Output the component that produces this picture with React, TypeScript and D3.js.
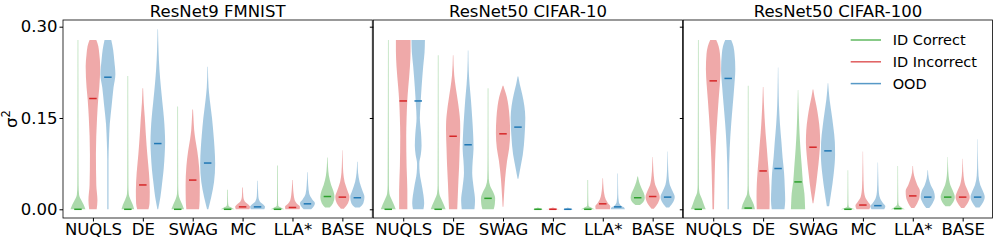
import React, { useEffect, useRef } from 'react';
import * as d3 from 'd3';

type Violin = { med: number; pts: [number, number][] };

const panelTitles = ['ResNet9 FMNIST', 'ResNet50 CIFAR-10', 'ResNet50 CIFAR-100'];
const methods = ['NUQLS', 'DE', 'SWAG', 'MC', 'LLA*', 'BASE'];
const seriesNames = ['ID Correct', 'ID Incorrect', 'OOD'];
const seriesColors = ['#2ca02c', '#d62728', '#1f77b4'];
const yTicks = [0, 0.15, 0.3];

// each violin: median + [sigma^2 value, relative width]
// order per method: ID Correct, ID Incorrect, OOD
const fmnistViolins: Violin[][] = [
  [
    { med: 0, pts: [[0, 1], [0.008, 0.75], [0.016, 0.4], [0.024, 0.15], [0.04, 0.08], [0.1, 0.06], [0.2, 0.05], [0.278, 0.04]] },
    { med: 0.182, pts: [[0, 0.5], [0.015, 0.6], [0.04, 0.45], [0.09, 0.4], [0.15, 0.55], [0.18, 0.7], [0.2, 0.85], [0.235, 0.97], [0.255, 0.85], [0.268, 0.72], [0.278, 0.45]] },
    { med: 0.217, pts: [[0, 0.08], [0.08, 0.08], [0.11, 0.14], [0.14, 0.25], [0.17, 0.5], [0.2, 0.75], [0.222, 1], [0.245, 0.85], [0.262, 0.7], [0.278, 0.45]] },
  ],
  [
    { med: 0, pts: [[0, 0.85], [0.008, 0.65], [0.016, 0.35], [0.025, 0.12], [0.04, 0.07], [0.219, 0.04]] },
    { med: 0.04, pts: [[0, 0.75], [0.01, 0.9], [0.03, 0.93], [0.06, 0.82], [0.09, 0.6], [0.12, 0.42], [0.15, 0.27], [0.175, 0.12], [0.199, 0.04]] },
    { med: 0.108, pts: [[0, 0.05], [0.02, 0.35], [0.04, 0.55], [0.065, 0.78], [0.09, 0.92], [0.11, 0.98], [0.13, 0.93], [0.15, 0.82], [0.175, 0.62], [0.2, 0.42], [0.23, 0.22], [0.26, 0.1], [0.296, 0.03]] },
  ],
  [
    { med: 0, pts: [[0, 0.85], [0.008, 0.6], [0.016, 0.3], [0.025, 0.1], [0.04, 0.06], [0.169, 0.04]] },
    { med: 0.048, pts: [[0, 0.85], [0.015, 0.93], [0.04, 0.95], [0.07, 0.85], [0.095, 0.62], [0.115, 0.35], [0.13, 0.2], [0.15, 0.1], [0.164, 0.04]] },
    { med: 0.076, pts: [[0, 0.08], [0.02, 0.48], [0.045, 0.85], [0.075, 1], [0.1, 0.92], [0.12, 0.8], [0.15, 0.58], [0.18, 0.28], [0.2, 0.12], [0.234, 0.03]] },
  ],
  [
    { med: 0, pts: [[0, 0.95], [0.003, 0.5], [0.006, 0.12], [0.012, 0.06], [0.032, 0.04]] },
    { med: 0.004, pts: [[0, 0.9], [0.004, 1], [0.008, 0.75], [0.013, 0.3], [0.02, 0.1], [0.036, 0.04]] },
    { med: 0.004, pts: [[0, 0.9], [0.004, 1], [0.008, 0.75], [0.013, 0.3], [0.022, 0.1], [0.047, 0.03]] },
  ],
  [
    { med: 0, pts: [[0, 0.95], [0.003, 0.45], [0.006, 0.1], [0.015, 0.06], [0.072, 0.04]] },
    { med: 0.003, pts: [[0, 0.95], [0.004, 1], [0.009, 0.6], [0.015, 0.3], [0.025, 0.15], [0.035, 0.08], [0.048, 0.03]] },
    { med: 0.009, pts: [[0, 0.5], [0.005, 0.85], [0.01, 1], [0.016, 0.65], [0.025, 0.25], [0.04, 0.1], [0.061, 0.03]] },
  ],
  [
    { med: 0.021, pts: [[0.003, 0.3], [0.01, 0.75], [0.02, 0.95], [0.03, 0.8], [0.04, 0.5], [0.055, 0.2], [0.07, 0.08], [0.085, 0.03]] },
    { med: 0.02, pts: [[0.001, 0.2], [0.01, 0.75], [0.02, 0.95], [0.03, 0.7], [0.045, 0.3], [0.06, 0.12], [0.08, 0.05], [0.097, 0.02]] },
    { med: 0.019, pts: [[0.003, 0.3], [0.01, 0.8], [0.02, 0.95], [0.03, 0.7], [0.045, 0.3], [0.06, 0.1], [0.078, 0.03]] },
  ],
];

const cifar10Violins: Violin[][] = [
  [
    { med: 0, pts: [[0, 1], [0.008, 0.75], [0.016, 0.45], [0.026, 0.15], [0.04, 0.08], [0.278, 0.04]] },
    { med: 0.178, pts: [[0, 0.55], [0.03, 0.55], [0.07, 0.45], [0.12, 0.4], [0.15, 0.45], [0.18, 0.55], [0.2, 0.67], [0.235, 0.9], [0.26, 0.98], [0.278, 0.98]] },
    { med: 0.178, pts: [[0, 0.7], [0.01, 0.8], [0.035, 0.55], [0.06, 0.2], [0.075, 0.15], [0.09, 0.35], [0.105, 0.45], [0.125, 0.38], [0.15, 0.22], [0.17, 0.3], [0.2, 0.45], [0.235, 0.67], [0.258, 0.85], [0.278, 0.9]] },
  ],
  [
    { med: 0, pts: [[0, 1], [0.008, 0.75], [0.016, 0.45], [0.026, 0.15], [0.04, 0.07], [0.253, 0.04]] },
    { med: 0.12, pts: [[0, 0.55], [0.02, 0.62], [0.045, 0.7], [0.07, 0.8], [0.1, 0.88], [0.13, 0.95], [0.145, 0.93], [0.16, 0.82], [0.18, 0.6], [0.2, 0.35], [0.22, 0.15], [0.253, 0.03]] },
    { med: 0.106, pts: [[0, 0.85], [0.015, 0.93], [0.035, 0.75], [0.06, 0.55], [0.08, 0.62], [0.1, 0.73], [0.125, 0.67], [0.15, 0.55], [0.18, 0.38], [0.205, 0.2], [0.23, 0.08], [0.261, 0.03]] },
  ],
  [
    { med: 0.018, pts: [[0, 0.75], [0.008, 0.9], [0.018, 0.95], [0.028, 0.7], [0.038, 0.3], [0.05, 0.1], [0.08, 0.06], [0.199, 0.04]] },
    { med: 0.124, pts: [[0.004, 0.05], [0.02, 0.12], [0.05, 0.28], [0.08, 0.55], [0.1, 0.82], [0.125, 0.95], [0.15, 0.88], [0.17, 0.72], [0.185, 0.5], [0.195, 0.25], [0.203, 0.05]] },
    { med: 0.135, pts: [[0.05, 0.05], [0.07, 0.35], [0.09, 0.65], [0.12, 0.88], [0.15, 0.98], [0.17, 0.85], [0.19, 0.55], [0.205, 0.25], [0.218, 0.05]] },
  ],
  [
    { med: 0, pts: [[0, 0.95], [0.0015, 0.3], [0.003, 0.02]] },
    { med: 0, pts: [[0, 0.95], [0.0015, 0.4], [0.003, 0.02]] },
    { med: 0, pts: [[0, 0.95], [0.0015, 0.3], [0.003, 0.02]] },
  ],
  [
    { med: 0, pts: [[0, 0.95], [0.003, 0.45], [0.006, 0.1], [0.015, 0.06], [0.048, 0.04]] },
    { med: 0.009, pts: [[0, 0.95], [0.005, 1], [0.01, 0.7], [0.016, 0.4], [0.025, 0.2], [0.035, 0.1], [0.051, 0.03]] },
    { med: 0.004, pts: [[0, 0.95], [0.003, 0.85], [0.006, 0.45], [0.012, 0.15], [0.025, 0.06], [0.059, 0.03]] },
  ],
  [
    { med: 0.019, pts: [[0.007, 0.3], [0.012, 0.75], [0.019, 0.95], [0.027, 0.8], [0.035, 0.5], [0.045, 0.2], [0.054, 0.04]] },
    { med: 0.021, pts: [[0.001, 0.15], [0.01, 0.7], [0.02, 0.95], [0.03, 0.7], [0.04, 0.35], [0.055, 0.15], [0.07, 0.07], [0.086, 0.02]] },
    { med: 0.02, pts: [[0.003, 0.2], [0.012, 0.75], [0.02, 0.95], [0.03, 0.65], [0.04, 0.3], [0.055, 0.12], [0.075, 0.05], [0.095, 0.02]] },
  ],
];

const cifar100Violins: Violin[][] = [
  [
    { med: 0, pts: [[0, 1], [0.008, 0.75], [0.018, 0.45], [0.028, 0.15], [0.04, 0.08], [0.278, 0.04]] },
    { med: 0.211, pts: [[0, 0.1], [0.03, 0.15], [0.08, 0.25], [0.12, 0.4], [0.15, 0.55], [0.18, 0.72], [0.205, 0.88], [0.23, 0.98], [0.255, 0.9], [0.268, 0.72], [0.278, 0.4]] },
    { med: 0.215, pts: [[0, 0.08], [0.05, 0.1], [0.1, 0.2], [0.14, 0.4], [0.17, 0.6], [0.2, 0.8], [0.23, 0.95], [0.255, 0.85], [0.268, 0.7], [0.278, 0.4]] },
  ],
  [
    { med: 0.002, pts: [[0, 0.9], [0.008, 0.75], [0.016, 0.45], [0.025, 0.15], [0.04, 0.07], [0.203, 0.04]] },
    { med: 0.063, pts: [[0, 0.85], [0.02, 0.88], [0.04, 0.85], [0.06, 0.75], [0.08, 0.62], [0.1, 0.5], [0.125, 0.33], [0.15, 0.2], [0.175, 0.1], [0.201, 0.03]] },
    { med: 0.067, pts: [[0, 0.85], [0.015, 0.95], [0.035, 0.9], [0.06, 0.8], [0.085, 0.6], [0.11, 0.45], [0.14, 0.25], [0.17, 0.12], [0.2, 0.06], [0.233, 0.02]] },
  ],
  [
    { med: 0.045, pts: [[0, 0.95], [0.01, 0.92], [0.026, 0.85], [0.045, 0.65], [0.07, 0.5], [0.1, 0.32], [0.125, 0.2], [0.15, 0.12], [0.175, 0.06], [0.196, 0.02]] },
    { med: 0.102, pts: [[0.01, 0.05], [0.03, 0.3], [0.06, 0.6], [0.09, 0.85], [0.11, 0.95], [0.13, 0.9], [0.15, 0.72], [0.17, 0.45], [0.185, 0.2], [0.197, 0.04]] },
    { med: 0.096, pts: [[0.005, 0.15], [0.025, 0.4], [0.06, 0.78], [0.09, 0.95], [0.11, 0.92], [0.135, 0.72], [0.16, 0.45], [0.18, 0.22], [0.195, 0.1], [0.207, 0.03]] },
  ],
  [
    { med: 0, pts: [[0, 0.95], [0.002, 0.4], [0.005, 0.1], [0.012, 0.06], [0.064, 0.03]] },
    { med: 0.007, pts: [[0, 0.85], [0.006, 1], [0.012, 0.7], [0.02, 0.3], [0.035, 0.12], [0.06, 0.06], [0.095, 0.02]] },
    { med: 0.006, pts: [[0, 0.85], [0.005, 1], [0.01, 0.7], [0.018, 0.3], [0.03, 0.12], [0.05, 0.06], [0.077, 0.02]] },
  ],
  [
    { med: 0.001, pts: [[0, 0.95], [0.003, 0.5], [0.007, 0.12], [0.015, 0.06], [0.071, 0.03]] },
    { med: 0.022, pts: [[0.002, 0.2], [0.01, 0.6], [0.02, 0.9], [0.03, 0.95], [0.04, 0.6], [0.05, 0.3], [0.06, 0.1], [0.071, 0.03]] },
    { med: 0.02, pts: [[0.002, 0.2], [0.01, 0.65], [0.02, 0.95], [0.03, 0.8], [0.04, 0.4], [0.05, 0.15], [0.064, 0.03]] },
  ],
  [
    { med: 0.02, pts: [[0.005, 0.3], [0.012, 0.75], [0.02, 0.95], [0.03, 0.7], [0.04, 0.35], [0.055, 0.12], [0.07, 0.05], [0.086, 0.02]] },
    { med: 0.02, pts: [[0.002, 0.2], [0.012, 0.75], [0.02, 0.95], [0.03, 0.7], [0.04, 0.35], [0.055, 0.12], [0.07, 0.05], [0.083, 0.02]] },
    { med: 0.02, pts: [[0.003, 0.25], [0.012, 0.75], [0.02, 0.95], [0.03, 0.7], [0.04, 0.35], [0.055, 0.12], [0.08, 0.05], [0.115, 0.02]] },
  ],
];

const panelData = [fmnistViolins, cifar10Violins, cifar100Violins];

const W = 997;
const H = 243;
const FONT = '"DejaVu Sans", sans-serif';

export default function App() {
  const svgRef = useRef<SVGSVGElement>(null);

  useEffect(() => {
    if (!svgRef.current) return;
    const svg = d3.select(svgRef.current);
    svg.selectAll('*').remove();

    const top = 20;
    const bottom = 218;
    const panelLefts = [63, 373.3, 683.3];
    const panelW = 309.3;

    const y = d3.scaleLinear().domain([-0.0143, 0.311]).range([bottom, top]);

    panelData.forEach((violins, p) => {
      const left = panelLefts[p];
      const x = d3.scaleLinear().domain([0.4, 6.6]).range([left, left + panelW]);
      const g = svg.append('g');
      const hw = x(0.15) - x(0); // half of the max violin width

      violins.forEach((trio, m) => {
        trio.forEach((v, s) => {
          const pos = m + 1 + (s - 1) * 0.3;
          const cx = x(pos);
          const area = d3.area<[number, number]>()
            .y(d => y(d[0]))
            .x0(d => cx - hw * d[1])
            .x1(d => cx + hw * d[1])
            .curve(d3.curveMonotoneY);
          g.append('path')
            .attr('d', area(v.pts) || '')
            .attr('fill', seriesColors[s])
            .attr('fill-opacity', 0.4);
        });
      });
      violins.forEach((trio, m) => {
        trio.forEach((v, s) => {
          const pos = m + 1 + (s - 1) * 0.3;
          g.append('line')
            .attr('x1', x(pos - 0.075))
            .attr('x2', x(pos + 0.075))
            .attr('y1', y(v.med))
            .attr('y2', y(v.med))
            .attr('stroke', seriesColors[s])
            .attr('stroke-width', 1.5);
        });
      });

      // y axis (labels only on first panel)
      const ya = g.append('g')
        .attr('transform', `translate(${left},0)`)
        .call(d3.axisLeft(y).tickValues(yTicks).tickSize(3.5).tickPadding(2)
          .tickFormat(p === 0 ? (d => d3.format('.2f')(d as number)) : () => ''));
      ya.select('.domain').remove();
      ya.selectAll('text').attr('font-family', FONT).attr('font-size', 16.5).attr('fill', '#000');

      const xa = g.append('g')
        .attr('transform', `translate(0,${bottom})`)
        .call(d3.axisBottom(x).tickValues([1, 2, 3, 4, 5, 6]).tickSize(3.5).tickPadding(2)
          .tickFormat(d => methods[(d as number) - 1]));
      xa.select('.domain').remove();
      xa.selectAll('text').attr('font-family', FONT).attr('font-size', 16.5).attr('fill', '#000');

      g.append('rect')
        .attr('x', left)
        .attr('y', top)
        .attr('width', panelW)
        .attr('height', bottom - top)
        .attr('fill', 'none')
        .attr('stroke', '#000')
        .attr('stroke-width', 0.8);

      g.append('text')
        .attr('x', left + panelW / 2)
        .attr('y', 17)
        .attr('text-anchor', 'middle')
        .attr('font-family', FONT)
        .attr('font-size', 16.5)
        .text(panelTitles[p]);
    });

    // y label
    const yl = svg.append('text')
      .attr('transform', 'translate(17,119) rotate(-90)')
      .attr('text-anchor', 'middle')
      .attr('font-family', FONT)
      .attr('font-size', 16.5);
    yl.append('tspan').text('σ');
    yl.append('tspan').attr('font-size', 11.5).attr('dy', -7).text('2');

    // legend
    const lg = svg.append('g').attr('transform', 'translate(850.7,40)');
    seriesNames.forEach((name, i) => {
      const row = lg.append('g').attr('transform', `translate(0,${i * 21.8})`);
      row.append('line')
        .attr('x1', 0).attr('x2', 30.3)
        .attr('stroke', seriesColors[i])
        .attr('stroke-opacity', 0.75)
        .attr('stroke-width', 1.5);
      row.append('text')
        .attr('x', 42)
        .attr('dy', '0.36em')
        .attr('font-family', FONT)
        .attr('font-size', 14.5)
        .text(name);
    });
  }, []);

  return (
    <svg
      ref={svgRef}
      width={W}
      height={H}
      style={{ position: 'absolute', left: 0, top: 0, background: '#fff' }}
    />
  );
}
